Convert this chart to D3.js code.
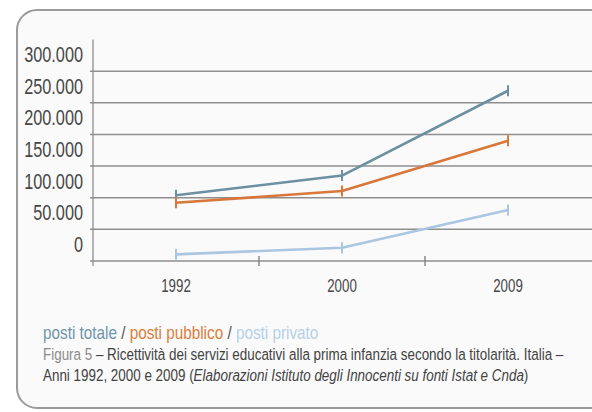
<!DOCTYPE html>
<html>
<head>
<meta charset="utf-8">
<script src="https://cdnjs.cloudflare.com/ajax/libs/d3/7.8.5/d3.min.js"></script>
<style>
  html, body { margin: 0; padding: 0; background: #ffffff; overflow: hidden; }
  svg { display: block; font-family: "Liberation Sans", Arial, Helvetica, sans-serif; }
</style>
</head>
<body>
<svg id="chart" width="592" height="412"></svg>
<script>
// Anni rilevati
const years = ["1992", "2000", "2009"];
// Posti nei servizi educativi per titolarità
const postiTotale = [104000, 135000, 269000];
const postiPubblico = [92000, 110500, 190000];
const postiPrivato = [10500, 21000, 80500];
// Etichette dell'asse verticale
const yTicks = [0, 50000, 100000, 150000, 200000, 250000, 300000];
const yTickLabels = ["0", "50.000", "100.000", "150.000", "200.000", "250.000", "300.000"];

const series = [
  { name: "posti totale", values: postiTotale, color: "#6c8fa1" },
  { name: "posti pubblico", values: postiPubblico, color: "#d9763a" },
  { name: "posti privato", values: postiPrivato, color: "#aac6e0" }
];

const svg = d3.select("#chart");
const SX = 0.74; // narrow lettering

// cornice arrotondata
svg.append("rect")
  .attr("x", 17).attr("y", 10)
  .attr("width", 760).attr("height", 398)
  .attr("rx", 20).attr("ry", 20)
  .attr("fill", "#fafafa")
  .attr("stroke", "#9b9b9b")
  .attr("stroke-width", 2);

const x = d3.scaleBand().domain(years).range([93, 591]);
const y = d3.scaleLinear().domain([0, 350000]).range([261, 39.5]);

function label(sel, tx, ty, txt, size, anchor, fill) {
  return sel.append("text")
    .attr("transform", `translate(${tx},${ty}) scale(${SX},1)`)
    .attr("text-anchor", anchor)
    .attr("font-size", size)
    .attr("fill", fill)
    .text(txt);
}

// griglia orizzontale
svg.append("g").selectAll("line")
  .data(yTicks).join("line")
  .attr("x1", 90).attr("x2", 592)
  .attr("y1", d => y(d)).attr("y2", d => y(d))
  .attr("stroke", "#8e8e8e")
  .attr("stroke-width", 1.5);

// asse verticale
svg.append("line")
  .attr("x1", 93).attr("x2", 93)
  .attr("y1", y(350000)).attr("y2", y(0) + 5)
  .attr("stroke", "#8e8e8e").attr("stroke-width", 1.3);

// tacche tra gli anni
svg.append("g").selectAll("line")
  .data(years.slice(1)).join("line")
  .attr("x1", d => x(d)).attr("x2", d => x(d))
  .attr("y1", y(0) - 5).attr("y2", y(0) + 5)
  .attr("stroke", "#7a7a7a").attr("stroke-width", 1.3);

// etichette asse Y
const yl = svg.append("g");
yTicks.forEach((v, i) => label(yl, 83, y(v) - 9, yTickLabels[i], 22, "end", "#474747"));

// etichette asse X
const xl = svg.append("g");
years.forEach(yr => label(xl, x(yr) + x.bandwidth() / 2, 292, yr, 18, "middle", "#474747"));

// linee delle serie
const line = d3.line()
  .x((d, i) => x(years[i]) + x.bandwidth() / 2)
  .y(d => y(d));

const gs = svg.append("g").selectAll("g").data(series).join("g");
gs.append("path")
  .attr("d", d => line(d.values))
  .attr("fill", "none")
  .attr("stroke", d => d.color)
  .attr("stroke-width", 2.6)
  .attr("stroke-linejoin", "round");
gs.selectAll("line")
  .data(d => d.values.map((v, i) => ({ v, i, color: d.color })))
  .join("line")
  .attr("x1", d => x(years[d.i]) + x.bandwidth() / 2)
  .attr("x2", d => x(years[d.i]) + x.bandwidth() / 2)
  .attr("y1", d => y(d.v) - 5.5)
  .attr("y2", d => y(d.v) + 5.5)
  .attr("stroke", d => d.color)
  .attr("stroke-width", 2);

// legenda
const leg = svg.append("text")
  .attr("transform", "translate(43,339) scale(0.85,1)")
  .attr("font-size", 18);
leg.append("tspan").attr("fill", "#6f95a9").text("posti totale");
leg.append("tspan").attr("fill", "#555").text(" / ");
leg.append("tspan").attr("fill", "#dc7d3c").text("posti pubblico");
leg.append("tspan").attr("fill", "#555").text(" / ");
leg.append("tspan").attr("fill", "#b6d0e8").text("posti privato");

// didascalia
const c1 = svg.append("text")
  .attr("transform", "translate(43,359.5) scale(0.79,1)")
  .attr("font-size", 17).attr("fill", "#424242");
c1.append("tspan").attr("fill", "#8a8a8a").text("Figura 5");
c1.append("tspan").text(" – Ricettività dei servizi educativi alla prima infanzia secondo la titolarità. Italia –");

const c2 = svg.append("text")
  .attr("transform", "translate(43,381) scale(0.79,1)")
  .attr("font-size", 17).attr("fill", "#424242");
c2.append("tspan").text("Anni 1992, 2000 e 2009 (");
c2.append("tspan").attr("font-style", "italic").text("Elaborazioni Istituto degli Innocenti su fonti Istat e Cnda");
c2.append("tspan").text(")");
</script>
</body>
</html>
